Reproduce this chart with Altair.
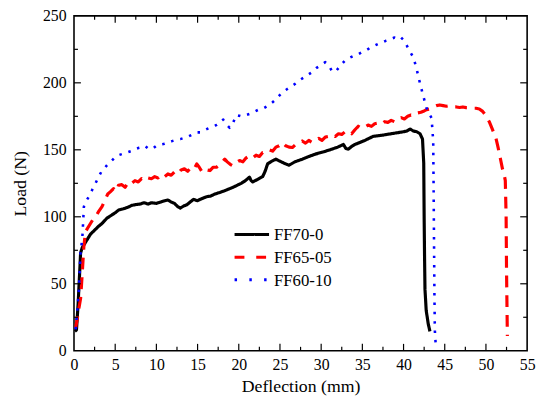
import altair as alt
import pandas as pd

names = ["FF70-0", "FF65-05", "FF60-10"]
colors = ["#000000", "#ff0000", "#0000ff"]
dashes = [[1, 0], [12, 8], [2.5, 7]]
legend_dashes = [[1, 0], [10, 12], [2.5, 12.5]]
widths = [3.2, 3.2, 2.6]

# FF70-0 (black)
bx = [0.1, 0.3, 0.5, 0.7, 0.8, 1.0, 1.3, 1.6, 2.0, 2.5, 3.0, 3.4, 4.0, 4.5, 5.0, 5.4, 6.0, 6.5, 7.0, 7.4,
      8.0, 8.5, 9.0, 9.4, 10.0, 10.5, 11.0, 11.4, 11.8, 12.2, 12.6, 12.9, 13.3, 13.7, 14.1, 14.5, 15.0, 15.3,
      15.7, 16.1, 16.6, 17.1, 17.6, 18.1, 18.7, 19.3, 19.8, 20.3, 20.8, 21.3, 21.5, 21.7, 22.0, 22.3, 22.6,
      22.9, 23.2, 23.5, 24.0, 24.5, 25.0, 25.5, 26.1, 26.8, 27.7, 28.5, 29.3, 30.3, 31.3, 32.0, 32.7, 33.0,
      33.3, 33.7, 34.1, 34.7, 35.3, 35.8, 36.3, 36.9, 37.5, 38.0, 38.5, 39.0, 39.5, 40.0, 40.4, 40.8, 41.2,
      41.6, 42.0, 42.3, 42.45, 42.5, 42.55, 42.6, 42.75, 43.0, 43.2]
by = [14.5, 15.5, 35, 60, 73, 77, 80, 83, 87, 90, 93, 95, 99, 101, 103, 105, 106, 107, 108.5, 109,
      109.5, 110.5, 109.5, 110.5, 110, 111, 112, 112.5, 111, 110, 107.5, 106.5, 108, 109, 111, 113, 112, 113,
      114, 115, 115.5, 117, 118, 119, 120.5, 122, 123.5, 125, 127, 129.6, 127, 126, 127, 128, 129,
      130, 134, 139.5, 141.5, 143, 141.5, 140, 138.5, 141, 143, 145, 146.8, 148.5, 150.5, 152, 154, 151,
      150.5, 152.5, 154, 155.5, 157, 158.5, 160, 160.5, 161, 161.5, 162, 162.5, 163, 163.5, 164, 165.5, 164,
      163.5, 162, 158, 140, 100, 70, 46, 30, 20, 14.5]

# FF65-05 (red)
rx = [0.2, 0.4, 0.6, 0.8, 0.9, 1.0, 1.1, 1.2, 1.4, 1.7, 2.0, 2.3, 2.6, 3.0, 3.4, 3.8, 4.1, 4.4, 4.8, 5.1,
      5.4, 5.8, 6.2, 6.6, 7.0, 7.4, 7.8, 8.2, 8.6, 9.0, 9.4, 9.8, 10.2, 10.6, 11.0, 11.4, 11.8, 12.2, 12.6,
      13.0, 13.4, 13.8, 14.2, 14.6, 14.9, 15.2, 15.5, 15.7, 16.1, 16.5, 16.9, 17.3, 17.7, 18.0, 18.3, 18.6,
      19.0, 19.3, 19.7, 20.1, 20.5, 20.9, 21.3, 21.7, 22.1, 22.5, 22.9, 23.3, 23.7, 24.1, 24.5, 24.9, 25.3,
      25.7, 26.1, 26.5, 26.9, 27.3, 27.7, 28.1, 28.5, 28.9, 29.3, 29.7, 30.1, 30.5, 30.9, 31.3, 31.7, 32.1,
      32.5, 32.9, 33.3, 33.7, 34.1, 34.5, 34.9, 35.3, 35.7, 36.1, 36.5, 36.9, 37.3, 37.7, 38.1, 38.5, 38.9,
      39.3, 39.7, 40.1, 40.5, 40.9, 41.3, 41.7, 42.1, 42.5, 42.8, 43.2, 43.6, 44.0, 44.4, 44.8, 45.2, 45.6,
      46.0, 46.4, 46.8, 47.2, 47.6, 48.0, 48.4, 48.8, 49.2, 49.6, 50.0, 50.4, 50.8, 51.2, 51.5, 51.8, 52.0,
      52.2, 52.35, 52.45, 52.5, 52.6]
ry = [17, 24, 32, 39, 48, 58, 68, 78, 89, 92, 95, 98, 100, 104, 107.6, 113, 117, 118.6, 121, 119,
      123.5, 124, 122, 126, 125, 127, 126, 128.5, 127, 129, 128.4, 130, 129, 131.5, 130, 132, 131, 133.5, 132,
      135, 135.8, 134, 137, 136, 139.5, 137, 134, 133, 135, 134.5, 137, 137, 139, 141, 143, 141,
      139, 138, 140.5, 142, 141, 144, 145.6, 144, 146, 145, 148, 148, 150, 149, 152, 153, 155.4,
      153, 152, 151.7, 154, 155, 156.6, 155, 157, 155.5, 156.6, 158.5, 157, 159.5, 160, 161.5, 160, 162,
      161.5, 163.5, 164, 162, 165, 167.6, 166, 167, 168.5, 167.5, 169.5, 170, 169, 171, 170.5, 172, 171,
      173.5, 174, 173, 175, 176, 175.5, 177.5, 178, 179, 180, 180.5, 182, 183, 183.5, 183, 182.5, 183,
      182, 182, 181.6, 182, 181.5, 181.5, 181, 181, 180.5, 178.7, 175.5, 171, 165, 159, 151, 142, 136,
      132, 127, 100, 60, 11]

# FF60-10 (blue)
ux = [0.2, 0.4, 0.6, 0.8, 1.0, 1.1, 1.2, 1.4, 1.8, 2.2, 2.6, 3.0, 3.4, 3.8, 4.2, 4.6, 5.0, 5.4, 5.9, 6.4,
      6.9, 7.4, 7.9, 8.3, 8.6, 9.0, 9.2, 9.6, 10.0, 10.5, 11.0, 11.4, 11.9, 12.4, 12.9, 13.4, 13.9, 14.4,
      14.9, 15.3, 15.8, 16.3, 16.8, 17.3, 17.7, 18.1, 18.5, 18.9, 19.3, 19.7, 20.3, 20.9, 21.4, 21.9, 22.4,
      23.0, 23.7, 24.2, 24.7, 25.3, 25.8, 26.3, 26.9, 27.4, 27.9, 28.4, 28.9, 29.4, 29.9, 30.5, 31.0, 31.3,
      31.7, 32.1, 32.5, 32.9, 33.4, 33.9, 34.4, 34.9, 35.4, 35.9, 36.4, 36.9, 37.4, 37.9, 38.4, 38.9, 39.3,
      39.7, 40.0, 40.4, 40.8, 41.2, 41.6, 42.0, 42.4, 42.8, 43.1, 43.4, 43.5, 43.6, 43.65, 43.7, 43.75, 43.8,
      43.9]
uy = [16, 30, 46, 74.5, 83, 95, 107.6, 111, 115, 120, 124.8, 130, 134.5, 137, 140, 142, 144.5, 146, 147, 148,
      149, 150.5, 151.5, 152, 153, 151, 150.5, 151, 153, 154, 154.5, 155.4, 156.5, 157.5, 158, 159, 160, 161.5,
      163, 163, 164.5, 166, 167.5, 168.5, 170, 172.6, 169, 166.4, 170, 176, 175, 176, 177, 178.5, 180,
      181, 183.5, 186, 189, 193, 195, 197, 199.5, 202, 204, 206, 208, 211, 213, 215.4, 212, 209,
      208, 211, 214, 216.7, 218.5, 220, 221, 222.8, 224, 226, 227.5, 229, 230, 231.5, 232.5, 233.8, 232.5,
      233.8, 232, 227.7, 223, 219, 210, 199.5, 190, 181, 177, 173.8, 165, 156.6, 120, 80, 40, 15,
      5]

x_ticks = [0, 5, 10, 15, 20, 25, 30, 35, 40, 45, 50, 55]
y_ticks = [0, 50, 100, 150, 200, 250]
x_major = [5, 10, 15, 20, 25, 30, 35, 40, 45, 50]
x_minor = [2.5, 7.5, 12.5, 17.5, 22.5, 27.5, 32.5, 37.5, 42.5, 47.5, 52.5]
y_major = [50, 100, 150, 200]
y_minor = [25, 75, 125, 175, 225]

W, H = 460, 340
FONT = "Liberation Serif"
xscale = alt.Scale(domain=[0, 55], nice=False, zero=False)
yscale = alt.Scale(domain=[0, 250], nice=False)
x_axis = alt.Axis(values=x_ticks, title="Deflection (mm)", grid=False, ticks=False, tickSize=0,
                  domain=False, labelPadding=6, titlePadding=5, labelFlush=False)
y_axis = alt.Axis(values=y_ticks, title="Load (N)", grid=False, ticks=False, tickSize=0,
                  domain=False, labelPadding=8, titlePadding=13)

series_layers = []
for name, xs, ys, col, dash, wd in zip(names, [bx, rx, ux], [by, ry, uy], colors, dashes, widths):
    d = pd.DataFrame({"x": xs, "y": ys, "order": list(range(len(xs)))})
    series_layers.append(
        alt.Chart(d).mark_line(color=col, strokeDash=dash, strokeWidth=wd,
                               strokeCap="butt", strokeJoin="round").encode(
            x=alt.X("x:Q", scale=xscale, axis=x_axis),
            y=alt.Y("y:Q", scale=yscale, axis=y_axis),
            order="order:Q",
        )
    )

# legend (drawn inside the plot)
LEG_X, LEG_Y, LEG_LEN, LEG_STEP = 163, 222, 35, 23
legend_layers = []
for i, (name, col, dash, wd) in enumerate(zip(names, colors, legend_dashes, widths)):
    ld = pd.DataFrame({"series": [name]})
    yy = LEG_Y + LEG_STEP * i
    legend_layers.append(
        alt.Chart(ld).mark_rule(color=col, strokeDash=dash, strokeWidth=3, strokeCap="butt").encode(
            x=alt.value(LEG_X), x2=alt.value(LEG_X + LEG_LEN), y=alt.value(yy)
        )
    )
    legend_layers.append(
        alt.Chart(ld).mark_text(align="left", baseline="middle", font=FONT, fontSize=17, color="black").encode(
            text="series:N", x=alt.value(LEG_X + LEG_LEN + 5), y=alt.value(yy + 1)
        )
    )

def tick_layer(vals, side, length):
    d = pd.DataFrame({"x": vals, "y": vals})
    base = alt.Chart(d).mark_rule(color="black", strokeWidth=1.2)
    if side == "bottom":
        return base.encode(x=alt.X("x:Q", scale=xscale, axis=x_axis), y=alt.value(H), y2=alt.value(H - length))
    if side == "top":
        return base.encode(x=alt.X("x:Q", scale=xscale, axis=x_axis), y=alt.value(0), y2=alt.value(length))
    if side == "left":
        return base.encode(y=alt.Y("y:Q", scale=yscale, axis=y_axis), x=alt.value(0), x2=alt.value(length))
    return base.encode(y=alt.Y("y:Q", scale=yscale, axis=y_axis), x=alt.value(W), x2=alt.value(W - length))

ticks = [
    tick_layer(x_major, "bottom", 7), tick_layer(x_minor, "bottom", 4),
    tick_layer(x_major, "top", 7), tick_layer(x_minor, "top", 4),
    tick_layer(y_major, "left", 7), tick_layer(y_minor, "left", 4),
    tick_layer(y_major, "right", 7), tick_layer(y_minor, "right", 4),
]

chart = alt.layer(*series_layers, *ticks, *legend_layers).properties(
    width=W, height=H,
    autosize=alt.AutoSizeParams(type="none"),
    padding={"left": 67, "top": 5, "right": 9, "bottom": 46},
).configure(background="white", font=FONT).configure_view(
    stroke="black", strokeWidth=1.6
).configure_axis(
    labelFont=FONT, labelFontSize=16, labelColor="black",
    titleFont=FONT, titleFontSize=18, titleColor="black", titleFontWeight="normal",
)

chart.save("out.html", embed_options={"renderer": "svg", "actions": False})
